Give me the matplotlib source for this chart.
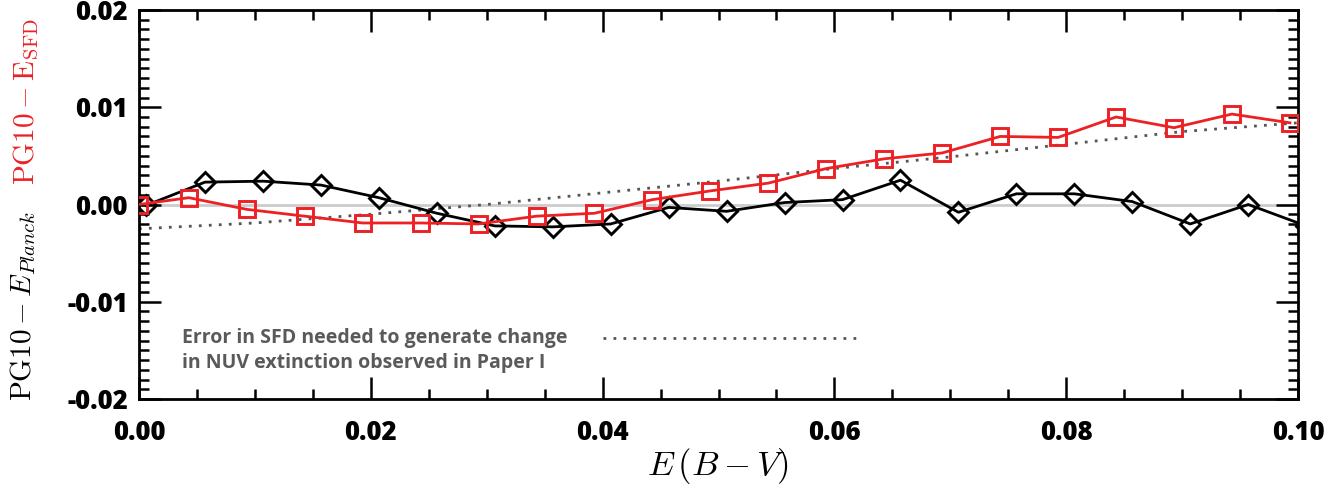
import matplotlib
matplotlib.use("Agg")
import matplotlib.pyplot as plt
from matplotlib.ticker import MultipleLocator
import numpy as np

plt.rcParams['mathtext.fontset'] = 'cm'

# PG10 - E_Planck (black diamonds)
ebv_planck = [0.0006, 0.0057, 0.0107, 0.0157, 0.0207, 0.0257, 0.0307, 0.0357, 0.0407, 0.0457, 0.0507,
              0.0557, 0.0607, 0.0657, 0.0707, 0.0757, 0.0807, 0.0857, 0.0907, 0.0957, 0.1007]
diff_planck = [-0.0001, 0.0023, 0.0024, 0.0020, 0.0007, -0.0009, -0.0022, -0.0023, -0.0020, -0.0003, -0.0007,
               0.0002, 0.0005, 0.0025, -0.0008, 0.0011, 0.0011, 0.0003, -0.0020, 0.0000, -0.0022]

# PG10 - E_SFD (red squares)
ebv_sfd = [0.0000, 0.0043, 0.0093, 0.0143, 0.0193, 0.0243, 0.0293, 0.0343, 0.0393, 0.0443, 0.0493,
           0.0543, 0.0593, 0.0643, 0.0693, 0.0743, 0.0793, 0.0843, 0.0893, 0.0943, 0.0993]
diff_sfd = [0.0000, 0.0007, -0.0005, -0.0012, -0.0019, -0.0019, -0.0020, -0.0012, -0.0009, 0.0005, 0.0014,
            0.0022, 0.0037, 0.0047, 0.0053, 0.0070, 0.0069, 0.0090, 0.0079, 0.0093, 0.0084]

# SFD error needed for the NUV extinction change (dotted curve)
ebv_err = [0.000, 0.010, 0.020, 0.030, 0.040, 0.050, 0.060, 0.070, 0.080, 0.090, 0.100]
sfd_err = [-0.0025, -0.0019, -0.0010, 0.0000, 0.0012, 0.0024, 0.0037, 0.0049, 0.0062, 0.0075, 0.0084]

red = '#ed2024'
grey_txt = '#5a5a5a'

fig = plt.figure(figsize=(13.36, 4.91), dpi=100)
ax = fig.add_axes([0.104, 0.1874, 0.8676, 0.7922])

ax.axhline(0, color='#cccccc', lw=2.0, zorder=1)
ax.plot(ebv_err, sfd_err, color='#555555', lw=2.0, linestyle=(0, (1, 2.6)), zorder=2)
ax.plot(ebv_planck, diff_planck, color='black', lw=2.0, marker='D', ms=10,
        mfc='none', mec='black', mew=2.1, zorder=3)
ax.plot(ebv_sfd, diff_sfd, color=red, lw=2.0, marker='s', ms=12,
        mfc='none', mec=red, mew=2.1, zorder=4)

# legend-like note
ax.plot([0.040, 0.0624], [-0.0137, -0.0137], color='#555555', lw=2.0, linestyle=(0, (1, 2.6)))
ax.text(0.0037, -0.0137, 'Error in SFD needed to generate change', color=grey_txt,
        fontsize=14, fontweight='bold', family='Open Sans', va='center', ha='left')
ax.text(0.0037, -0.0163, 'in NUV extinction observed in Paper I', color=grey_txt,
        fontsize=14, fontweight='bold', family='Open Sans', va='center', ha='left')

ax.set_xlim(0, 0.10)
ax.set_ylim(-0.02, 0.02)
ax.xaxis.set_major_locator(MultipleLocator(0.02))
ax.xaxis.set_minor_locator(MultipleLocator(0.005))
ax.yaxis.set_major_locator(MultipleLocator(0.01))
ax.yaxis.set_minor_locator(MultipleLocator(0.001))
ax.xaxis.set_major_formatter(lambda v, p: '%.2f' % v)
ax.yaxis.set_major_formatter(lambda v, p: '%.2f' % v)

ax.tick_params(which='both', direction='in', top=True, right=True, width=1.8)
ax.tick_params(which='major', length=16)
ax.tick_params(which='minor', length=7)
ax.tick_params(axis='x', which='major', pad=15)
ax.tick_params(axis='y', which='major', pad=8)
for lab in ax.get_xticklabels() + ax.get_yticklabels():
    lab.set_fontfamily('Open Sans')
    lab.set_fontweight('heavy')
    lab.set_fontsize(18.5)
for sp in ax.spines.values():
    sp.set_linewidth(2.0)

ax.set_xlabel(r'$E\,(B-V)$', fontsize=25, labelpad=0)

fig.text(0.017, 0.377, r'$\mathrm{PG10} - E_{Planck}$', color='black', fontsize=21,
         rotation=90, ha='center', va='center')
fig.text(0.020, 0.794, r'$\mathrm{PG10} - \mathrm{E}_{\mathrm{SFD}}$', color=red, fontsize=21,
         rotation=90, ha='center', va='center')

fig.savefig('out.png', dpi=100)
